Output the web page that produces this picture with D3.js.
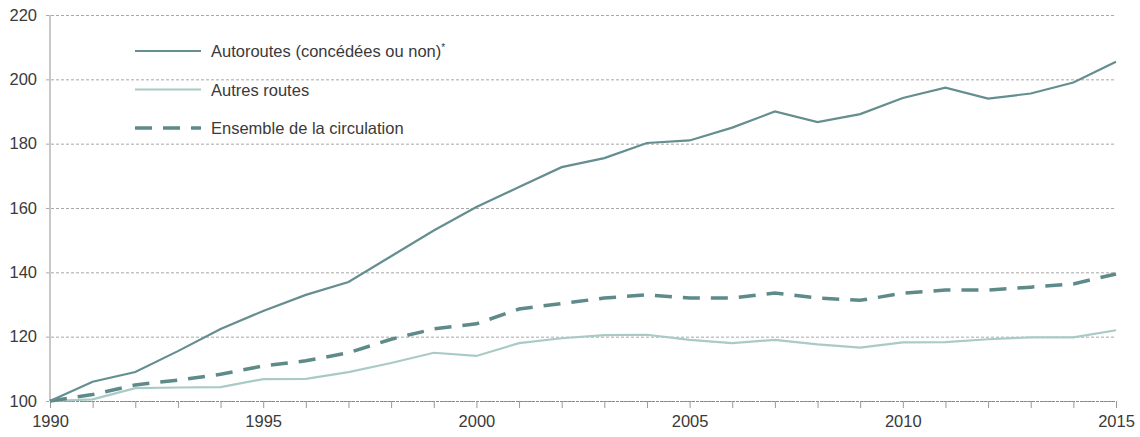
<!DOCTYPE html>
<html lang="fr">
<head>
<meta charset="UTF-8">
<title>Circulation routière</title>
<style>
  body { margin: 0; background: #fff; }
  .grid line { stroke: #a8a8a8; stroke-dasharray: 3,2; stroke-width: 1; }
  .grid path { stroke-width: 0; }
  .tick text { font-family: "Liberation Sans", Arial, sans-serif; font-size: 16.5px; fill: #3a3a3a; }
  .line { fill: none; }
</style>
</head>
<body>
<div id="chart"></div>
<script src="https://d3js.org/d3.v7.min.js"></script>
<script>
const years = d3.range(1990, 2016);
const autoroutes = [100, 106, 109, 115.5, 122.4, 128, 133, 137, 145, 153, 160.3, 166.5, 172.7, 175.5, 180.2, 181, 185, 190, 186.7, 189.2, 194.2, 197.4, 194, 195.6, 199, 205.5];
const autresRoutes = [100, 100.5, 104, 104.2, 104.3, 106.8, 106.9, 109, 111.8, 115, 114, 118, 119.5, 120.5, 120.6, 119, 118, 119, 117.6, 116.6, 118.2, 118.3, 119.2, 119.8, 119.8, 122];
const ensemble = [100, 102, 105, 106.5, 108.3, 110.9, 112.5, 115, 119.2, 122.4, 124, 128.6, 130.3, 132, 133, 132, 132, 133.6, 132, 131.3, 133.5, 134.5, 134.5, 135.4, 136.4, 139.5];
const yTicks = [100, 120, 140, 160, 180, 200, 220];
const xLabels = [1990, 1995, 2000, 2005, 2010, 2015];
const legendLabels = ["Autoroutes (concédées ou non)", "Autres routes", "Ensemble de la circulation"];

const W = 1140, H = 437;
const margin = {top: 15, right: 24, bottom: 36, left: 50};
const width = W - margin.left - margin.right,
      height = H - margin.top - margin.bottom;

const svg = d3.select("#chart").append("svg")
  .attr("width", W).attr("height", H)
  .append("g")
  .attr("transform", `translate(${margin.left},${margin.top})`);

const x = d3.scaleLinear().domain([1990, 2015]).range([0, width]);
const y = d3.scaleLinear().domain([100, 220]).range([height, 0]);

// horizontal gridlines + y labels
svg.append("g")
  .attr("class", "grid")
  .attr("transform", "translate(-4,0)")
  .call(d3.axisLeft(y).tickValues(yTicks).tickSize(-width - 4).tickPadding(9).tickFormat(d3.format("d")));

// vertical axis line
svg.append("line")
  .attr("x1", 0).attr("x2", 0).attr("y1", 0).attr("y2", height)
  .attr("stroke", "#c8c8c8").attr("stroke-width", 2);

// x axis
const xAxis = svg.append("g")
  .attr("transform", `translate(0,${height})`)
  .call(d3.axisBottom(x).tickValues(years).tickSize(7).tickPadding(7)
    .tickFormat(d => xLabels.includes(d) ? d : ""));
xAxis.select(".domain").attr("stroke", "#888").attr("stroke-dasharray", "3,1");
xAxis.selectAll("line").attr("stroke", "#999");

const line = d3.line().x((d, i) => x(years[i])).y(d => y(d));

svg.append("path").datum(autresRoutes).attr("class", "line")
  .attr("d", line).attr("stroke", "#a9cac5").attr("stroke-width", 2.2);
svg.append("path").datum(ensemble).attr("class", "line")
  .attr("d", line).attr("stroke", "#5e8a8a").attr("stroke-width", 3.5)
  .attr("stroke-dasharray", "17,11");
svg.append("path").datum(autoroutes).attr("class", "line")
  .attr("d", line).attr("stroke", "#648e8f").attr("stroke-width", 2.2);

// legend
const legend = [
  {label: legendLabels[0], sup: "*", color: "#648e8f", w: 2.2, dash: null},
  {label: legendLabels[1], sup: "", color: "#a9cac5", w: 2.2, dash: null},
  {label: legendLabels[2], sup: "", color: "#5e8a8a", w: 3.5, dash: "17,11"}
];
const lg = svg.append("g").attr("transform", "translate(85,36)");
legend.forEach((d, i) => {
  const g = lg.append("g").attr("transform", `translate(0,${i * 38.5})`);
  g.append("line").attr("x1", 0).attr("x2", 66).attr("y1", 0).attr("y2", 0)
    .attr("stroke", d.color).attr("stroke-width", d.w)
    .attr("stroke-dasharray", d.dash);
  const t = g.append("text").attr("x", 76).attr("y", 6)
    .style("font-family", "Liberation Sans, Arial, sans-serif")
    .style("font-size", "16.5px").attr("fill", "#3a3a3a")
    .text(d.label);
  if (d.sup) t.append("tspan").attr("dy", -6).style("font-size", "10px").text(d.sup);
});
</script>
</body>
</html>
